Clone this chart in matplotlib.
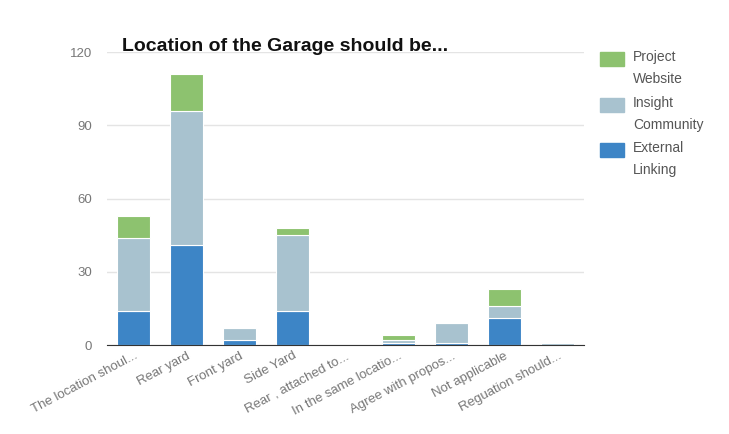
import numpy as np
import matplotlib.pyplot as plt
from matplotlib.patches import Rectangle

plt.rcParams['font.family'] = ['Liberation Sans', 'DejaVu Sans']

categories = ["The location shoul...", "Rear yard", "Front yard", "Side Yard",
              "Rear , attached to...", "In the same locatio...", "Agree with propos...",
              "Not applicable", "Reguation should..."]
external = [14, 41, 2, 14, 0, 1, 1, 11, 0]
insight = [30, 55, 5, 31, 0, 1, 8, 5, 1]
project = [9, 15, 0, 3, 0, 2, 0, 7, 0]
series_names = ["Project\nWebsite", "Insight\nCommunity", "External\nLinking"]

c_ext = '#3d85c6'
c_ins = '#a8c2cf'
c_pro = '#8dc26f'

W, H = 729, 434
fig = plt.figure(figsize=(W / 100, H / 100), dpi=100)
ax = fig.add_axes([0.147, 0.205, 0.654, 0.675])

x = np.arange(len(categories))
bw = 0.62
ext = np.array(external)
ins = np.array(insight)
pro = np.array(project)
ax.bar(x, ext, width=bw, color=c_ext, edgecolor='white', lw=0.8, zorder=3)
ax.bar(x, ins, width=bw, bottom=ext, color=c_ins, edgecolor='white', lw=0.8, zorder=3)
ax.bar(x, pro, width=bw, bottom=ext + ins, color=c_pro, edgecolor='white', lw=0.8, zorder=3)

ax.set_xlim(-0.5, len(categories) - 0.5)
ax.set_ylim(0, 120)
ax.set_yticks([0, 30, 60, 90, 120])
ax.yaxis.grid(True, color='#e4e4e4', lw=1, zorder=0)
ax.tick_params(axis='both', length=0, labelsize=9.5, labelcolor='#777777')
ax.tick_params(axis='y', pad=11)
ax.set_xticks(x)
ax.set_xticklabels(categories, rotation=28, ha='right', rotation_mode='anchor')
for s in ['top', 'right', 'left']:
    ax.spines[s].set_visible(False)
ax.spines['bottom'].set_color('#333333')
ax.spines['bottom'].set_zorder(4)

fig.text(0.167, 0.882, "Location of the Garage should be...", fontsize=14,
         fontweight='bold', color='#111111')

# legend, swatch lined up with the first text line
for i, (name, col) in enumerate(zip(series_names, [c_pro, c_ins, c_ext])):
    top = 52 + i * 45.5
    fig.add_artist(Rectangle((600 / W, 1 - (top + 14) / H), 24 / W, 14 / H,
                             transform=fig.transFigure, color=col))
    fig.text(633 / W, 1 - (top - 2) / H, name, fontsize=10, color='#555555',
             va='top', linespacing=1.75)

fig.savefig('out.png', dpi=100)
